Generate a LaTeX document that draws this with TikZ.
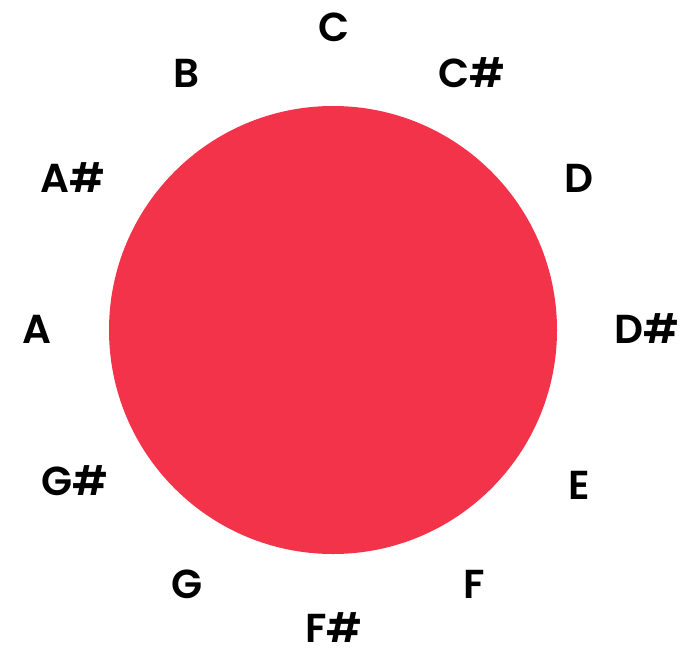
\documentclass[tikz,border=0pt]{standalone}
\usepackage{fontspec}
\setmainfont{Poppins}[BoldFont={* SemiBold}]
\usepackage{tikz}
\definecolor{Rojo}{HTML}{F23349}

\begin{document}
\begin{tikzpicture}[
  x=0.2mm,y=-0.2mm,
  nota/.style={font=\fontsize{23}{27}\selectfont\bfseries,inner sep=0pt,anchor=center}
]
  \useasboundingbox (0,0) rectangle (694,649);
  \node[circle,fill=Rojo,minimum size=89.6mm,inner sep=0pt] (disco) at (333,330) {};

  \node[nota] (nC)  at (334,27)  {C};
  \node[nota] (nCs) at (472,73)  {C\#};
  \node[nota] (nD)  at (579,178) {D};
  \node[nota] (nDs) at (647,329) {D\#};
  \node[nota] (nE)  at (579,485) {E};
  \node[nota] (nF)  at (474,584) {F};
  \node[nota] (nFs) at (334,628) {F\#};
  \node[nota] (nG)  at (187,584) {G};
  \node[nota] (nGs) at (75,481)  {G\#};
  \node[nota] (nA)  at (37,329)  {A};
  \node[nota] (nAs) at (73,178)  {A\#};
  \node[nota] (nB)  at (186,73)  {B};
\end{tikzpicture}
\end{document}
